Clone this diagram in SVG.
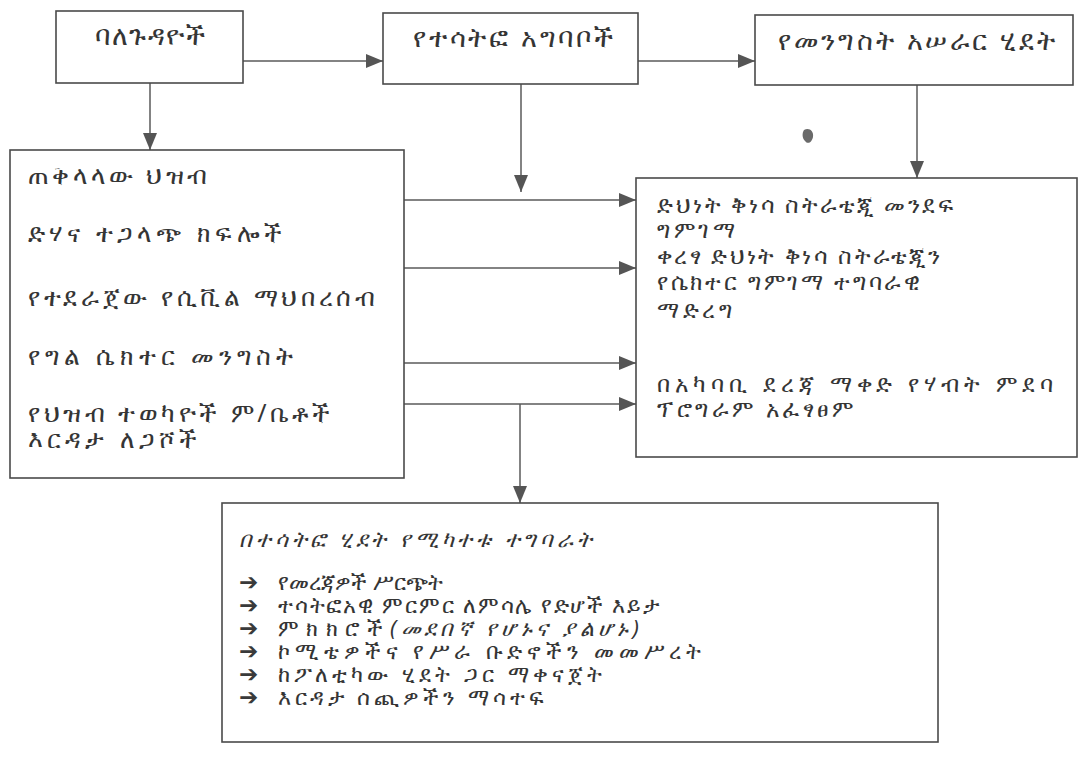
<svg xmlns="http://www.w3.org/2000/svg" width="1081" height="764" viewBox="0 0 1081 764">
<defs>
<marker id="ah" markerUnits="userSpaceOnUse" markerWidth="18" markerHeight="14" refX="17" refY="7" orient="auto">
<path d="M0,0 L17,7 L0,14 z" fill="#555"/>
</marker>
<style>
.box{fill:#fff;stroke:#4a4a4a;stroke-width:1.6}
.con{fill:none;stroke:#5a5a5a;stroke-width:1.5;marker-end:url(#ah)}
text{font-family:"Noto Sans","DejaVu Sans",sans-serif;font-size:23px;fill:#353535}
.hd{font-size:27px}
.lf{font-size:25px}
.ls{font-size:22px}
.it{font-style:italic}
.bul{font-family:"DejaVu Sans",sans-serif;font-size:23px;font-weight:bold;fill:#3a3a3a}
</style>
</defs>
<rect width="1081" height="764" fill="#fff"/>
<g id="connectors">
<line class="con" x1="243" y1="61" x2="383" y2="61"/>
<line class="con" x1="638" y1="61" x2="755" y2="61"/>
<line class="con" x1="150" y1="83" x2="150" y2="150"/>
<line class="con" x1="521" y1="84" x2="521" y2="192"/>
<line class="con" x1="917" y1="85" x2="917" y2="178"/>
<line class="con" x1="404" y1="200" x2="636" y2="200"/>
<line class="con" x1="404" y1="268" x2="636" y2="268"/>
<line class="con" x1="404" y1="363" x2="636" y2="363"/>
<line class="con" x1="404" y1="404" x2="636" y2="404"/>
<line class="con" x1="520" y1="404" x2="520" y2="503"/>
</g>
<g id="stakeholders">
<rect class="box" x="56" y="11" width="187" height="72"/>
<text class="hd" x="95" y="45" textLength="110" lengthAdjust="spacing">ባለጉዳዮች</text>
</g>
<g id="participation-modes">
<rect class="box" x="383" y="13" width="255" height="71"/>
<text class="hd" x="413" y="47" textLength="200" lengthAdjust="spacing">የተሳትፎ አግባቦች</text>
</g>
<g id="government-process">
<rect class="box" x="755" y="15" width="318" height="70"/>
<text class="hd" x="778" y="50" textLength="277" lengthAdjust="spacing">የመንግስት አሠራር ሂደት</text>
</g>
<g id="actors">
<rect class="box" x="10" y="150" width="394" height="328"/>
<text class="lf" x="28" y="184" textLength="179" lengthAdjust="spacing">ጠቅላላው ህዝብ</text>
<text class="lf" x="28" y="242" textLength="254" lengthAdjust="spacing">ድሃና ተጋላጭ ክፍሎች</text>
<text class="lf" x="28" y="306" textLength="347" lengthAdjust="spacing">የተደራጀው የሲቪል ማህበረሰብ</text>
<text class="lf" x="28" y="365" textLength="265" lengthAdjust="spacing">የግል ሴክተር መንግስት</text>
<text class="lf" x="28" y="422" textLength="302" lengthAdjust="spacing">የህዝብ ተወካዮች ም/ቤቶች</text>
<text class="lf" x="28" y="448" textLength="169" lengthAdjust="spacing">እርዳታ ለጋሾች</text>
</g>
<g id="processes">
<rect class="box" x="636" y="178" width="441" height="279"/>
<text x="657" y="213" textLength="296" lengthAdjust="spacing">ድህነት ቅነሳ ስትራቴጂ መንደፍ</text>
<text x="657" y="238" textLength="78" lengthAdjust="spacing">ግምገማ</text>
<text x="657" y="264" textLength="283" lengthAdjust="spacing">ቀረፃ ድህነት ቅነሳ ስትራቴጂን</text>
<text x="657" y="290" textLength="263" lengthAdjust="spacing">የሴክተር ግምገማ ተግባራዊ</text>
<text x="657" y="318" textLength="75" lengthAdjust="spacing">ማድረግ</text>
<text x="657" y="392" textLength="396" lengthAdjust="spacing">በአካባቢ ደረጃ ማቀድ የሃብት ምደባ</text>
<text x="657" y="417" textLength="196" lengthAdjust="spacing">ፕሮግራም አፈፃፀም</text>
</g>
<g id="activities">
<rect class="box" x="222" y="503" width="716" height="239"/>
<text class="ls it" x="239" y="547" textLength="353" lengthAdjust="spacing">በተሳትፎ ሂደት የሚካተቱ ተግባራት</text>
<text class="bul" x="239" y="590">➔</text>
<text class="ls" x="278" y="590" font-size="20">የመረጃዎች ሥርጭት</text>
<text class="bul" x="239" y="613">➔</text>
<text class="ls" x="278" y="613" textLength="381" lengthAdjust="spacing">ተሳትፎአዊ ምርምር ለምሳሌ የድሆች እይታ</text>
<text class="bul" x="239" y="636">➔</text>
<text class="ls" x="278" y="636" textLength="105" lengthAdjust="spacing">ምክክሮች</text>
<text class="ls it" x="390" y="636" font-size="19" textLength="249" lengthAdjust="spacing">(መደበኛ የሆኑና ያልሆኑ)</text>
<text class="bul" x="239" y="659">➔</text>
<text class="ls" x="278" y="659" textLength="423" lengthAdjust="spacing">ኮሚቴዎችና የሥራ ቡድኖችን መመሥረት</text>
<text class="bul" x="239" y="682">➔</text>
<text class="ls" x="278" y="682" textLength="324" lengthAdjust="spacing">ከፖለቲካው ሂደት ጋር ማቀናጀት</text>
<text class="bul" x="239" y="705">➔</text>
<text class="ls" x="278" y="705" textLength="266" lengthAdjust="spacing">እርዳታ ሰጪዎችን ማሳተፍ</text>
</g>
<path d="M804,130 C809,127 814,131 813,137 C812,142 808,145 805,141 C802,138 802,133 804,130 z" fill="#6a6a6a"/>
</svg>
